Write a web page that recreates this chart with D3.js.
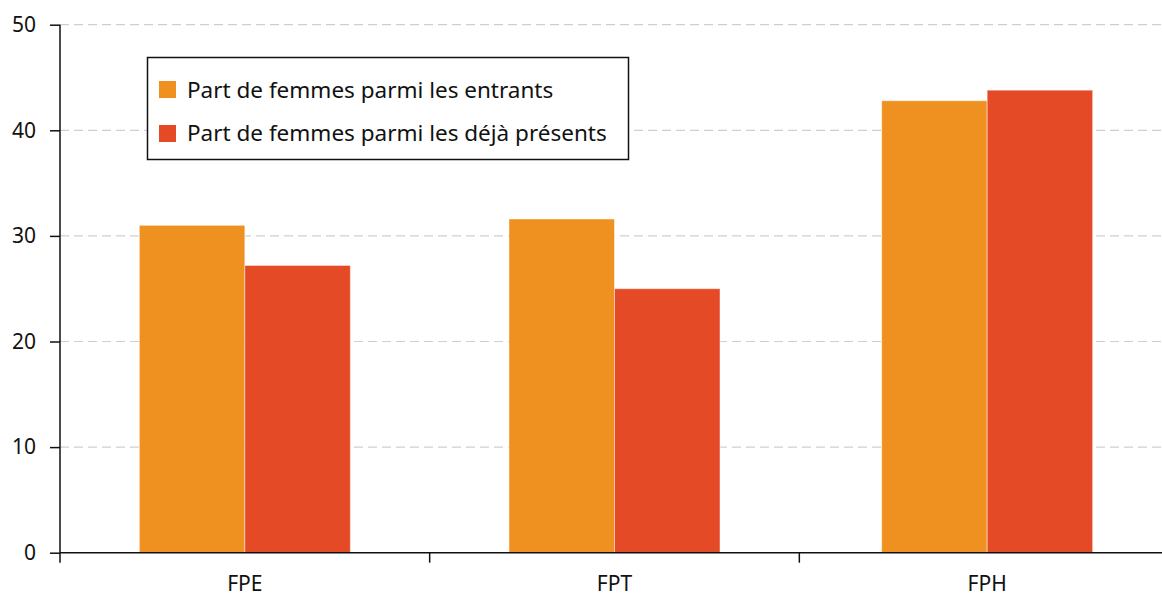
<!DOCTYPE html>
<html><head><meta charset="utf-8">
<script src="https://cdn.jsdelivr.net/npm/d3@7"></script>
<style>body{margin:0;background:#fff}svg{display:block}text{font-family:"Noto Sans",sans-serif;fill:#111}</style>
</head><body><svg id="c" width="1162" height="597"></svg>
<script>
const categories = ["FPE", "FPT", "FPH"];
const seriesNames = ["Part de femmes parmi les entrants", "Part de femmes parmi les déjà présents"];
const entrants = [31.0, 31.6, 42.8];
const dejaPresents = [27.2, 25.0, 43.8];
const yTicks = [0, 10, 20, 30, 40, 50];
const colors = ["#EF9121", "#E44A26"];

const svg = d3.select("#c");
const x0 = 60, x1 = 1169, yTop = 24.7, yBot = 552.7;
const x = d3.scaleBand().domain(categories).range([x0, x1]);
const y = d3.scaleLinear().domain([0, 50]).range([yBot, yTop]);
const barW = 105.5;

// grid
svg.append("g").selectAll("line").data(yTicks.filter(d => d > 0)).join("line")
  .attr("x1", x0).attr("x2", 1162).attr("y1", d => y(d)).attr("y2", d => y(d))
  .attr("stroke", "#cfcfcf").attr("stroke-width", 1.2).attr("stroke-dasharray", "9,5");

// bars
const series = [entrants, dejaPresents];
series.forEach((vals, si) => {
  svg.append("g").selectAll("rect").data(categories).join("rect")
    .attr("x", (c) => x(c) + x.bandwidth() / 2 - barW + si * barW + (c === "FPH" ? 3 : 0))
    .attr("width", barW)
    .attr("y", (c, i) => y(vals[i]))
    .attr("height", (c, i) => yBot - y(vals[i]))
    .attr("fill", colors[si])
    .attr("stroke", "rgba(255,255,255,0.45)").attr("stroke-width", 1);
});

// y axis
const ya = svg.append("g").attr("transform", `translate(${x0},0)`)
  .call(d3.axisLeft(y).tickValues(yTicks).tickSize(10).tickPadding(14));
ya.select(".domain").attr("stroke", "#111").attr("stroke-width", 1.5).attr("d", `M0,${yTop}V${yBot}`);
ya.selectAll(".tick line").attr("stroke", "#111").attr("stroke-width", 1.5);
ya.selectAll(".tick text").style("font-size", "21px").attr("fill", "#111").style("font-family", '"Noto Sans",sans-serif');

// x axis
const xa = svg.append("g").attr("transform", `translate(0,${yBot})`);
xa.append("line").attr("x1", x0).attr("x2", 1162).attr("y1", 0).attr("y2", 0).attr("stroke", "#111").attr("stroke-width", 1.5);
xa.selectAll("line.t").data(categories).join("line").attr("class", "t")
  .attr("x1", c => x(c)).attr("x2", c => x(c)).attr("y1", 0).attr("y2", 10)
  .attr("stroke", "#111").attr("stroke-width", 1.5);
xa.selectAll("text").data(categories).join("text")
  .attr("x", c => x(c) + x.bandwidth() / 2 + (c === "FPH" ? 3 : 0)).attr("y", 38)
  .attr("text-anchor", "middle").style("font-size", "21px").text(d => d);

// legend
const lg = svg.append("g");
lg.append("rect").attr("x", 147.5).attr("y", 57.5).attr("width", 481).attr("height", 102)
  .attr("fill", "#fff").attr("stroke", "#111").attr("stroke-width", 1.5);
seriesNames.forEach((n, i) => {
  lg.append("rect").attr("x", 159).attr("y", 81 + i * 44).attr("width", 17).attr("height", 17).attr("fill", colors[i]);
  lg.append("text").attr("x", 187).attr("y", 97.5 + i * 43.5).style("font-size", "22.5px").text(n);
});
</script></body></html>
